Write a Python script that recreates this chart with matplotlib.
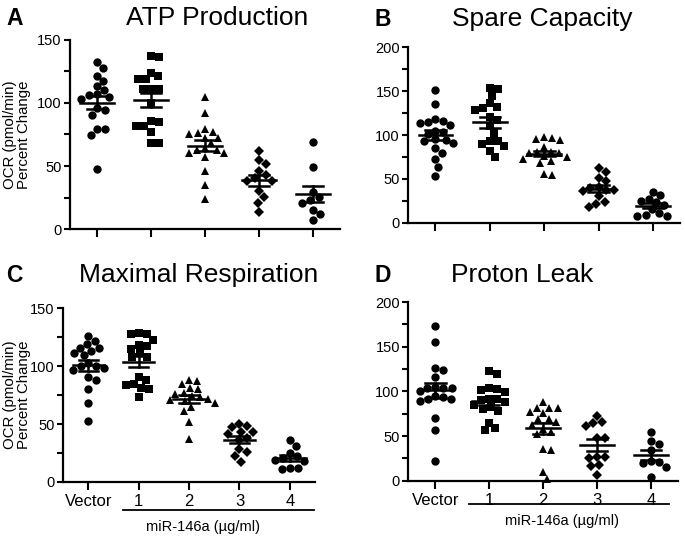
import numpy as np
import matplotlib
matplotlib.use("Agg")
import matplotlib.pyplot as plt
from matplotlib.ticker import MultipleLocator

plt.rcParams['font.family'] = ['Liberation Sans', 'DejaVu Sans']

groups = ['Vector', '1', '2', '3', '4']
markers = ['o', 's', '^', 'D', 'o']

# A - ATP Production
atp_vec = [132.5, 128, 121.4, 117.5, 113.5, 110.3, 107, 105, 106, 103, 94.4, 95.8, 90.5, 79, 79, 74.6, 47.4]
atp_1 = [137.3, 136.2, 118.8, 121.7, 124.1, 118.8, 110.8, 110.8, 110.8, 99.7, 85.2, 86, 82, 77.2, 82, 68, 68.5]
atp_2 = [105, 92, 77, 75, 76, 79, 72, 72, 68, 64, 63, 63, 60, 60, 57, 46, 35, 24]
atp_3 = [62.2, 54.8, 51.6, 45.8, 42.9, 40.2, 38.4, 38.4, 30.4, 25.1, 20.4, 13.2]
atp_4 = [68.8, 49.5, 29.1, 23, 20.9, 25.1, 15.1, 11.9, 6.9]

# B - Spare Capacity
spare_vec = [151, 135, 116, 111, 114, 115, 118, 105, 103, 101, 93, 95, 91, 94, 85, 79, 73, 64, 53]
spare_1 = [152, 154, 145, 136, 131, 129, 132, 121, 117, 110, 102, 93, 87, 90, 93, 82, 75]
spare_2 = [94, 97, 96, 98, 86, 81, 79, 81, 79, 75, 76, 73, 68, 70, 54, 55]
spare_3 = [58, 62, 51, 48, 40, 37, 37, 41, 36, 30, 24, 21, 18]
spare_4 = [31, 35, 27, 25, 23, 20, 15, 8, 8, 9, 11]

# C - Maximal Respiration
max_vec = [126, 122, 119, 116, 116, 111, 110, 113, 103, 100, 100, 98, 97, 91, 88, 80, 68, 53]
max_1 = [129, 128, 128, 123, 118, 117, 115, 111, 108, 108, 91, 88, 85, 81, 84, 80, 73]
max_2 = [85, 88, 87, 81, 80, 77, 76, 74, 73, 72, 71, 70, 68, 65, 61, 52, 37]
max_3 = [48, 47, 50, 43, 43, 41, 38, 36, 28, 26, 22, 17]
max_4 = [31, 36, 25, 22, 21, 19, 18, 12, 11, 12]

# D - Proton Leak
leak_vec = [173, 155, 124, 126, 116, 104, 105, 104, 104, 100, 94, 91, 89, 91, 95, 70, 57, 22]
leak_1 = [119, 123, 99, 104, 103, 102, 92, 90, 88, 91, 85, 83, 80, 78, 65, 57, 59]
leak_2 = [88, 82, 82, 81, 77, 76, 69, 69, 66, 63, 58, 55, 52, 36, 34, 10, 2]
leak_3 = [73, 65, 61, 66, 48, 48, 27, 25, 27, 18, 16, 7]
leak_4 = [55, 45, 41, 34, 21, 22, 20, 15, 4]


def swarm_offsets(ax, yvals, d):
    # simple beeswarm in pixel space, returns x offsets in data units
    y = np.asarray(yvals, float)
    ypix = ax.transData.transform(np.column_stack([np.zeros(len(y)), y]))[:, 1]
    p0 = ax.transData.transform([[0, 0], [1, 0]])
    xscale = p0[1, 0] - p0[0, 0]
    offs = np.zeros(len(y))
    placed = []
    for i in np.argsort(-ypix):
        yp = ypix[i]
        cands = [0.0]
        for px, py in placed:
            dy = abs(yp - py)
            if dy < d:
                dx = np.sqrt(d * d - dy * dy)
                cands += [px + dx, px - dx]
        for c in sorted(cands, key=abs):
            if all((c - px) ** 2 + (yp - py) ** 2 >= d * d - 1e-6 for px, py in placed):
                placed.append((c, yp))
                offs[i] = c
                break
    return offs / xscale


def panel(fig, rect, data, ymax, title, letter, title_xy, letter_xy, ylabel=False, xlabels=False):
    ax = fig.add_axes(rect)
    ax.set_xlim(-0.5, 4.5)
    ax.set_ylim(0, ymax)
    ax.spines['top'].set_visible(False)
    ax.spines['right'].set_visible(False)
    for s in ['left', 'bottom']:
        ax.spines[s].set_linewidth(1.6)
    ax.yaxis.set_major_locator(MultipleLocator(50))
    ax.yaxis.set_minor_locator(MultipleLocator(25))
    ax.set_xticks(range(5))
    ax.tick_params(axis='both', which='both', width=1.5, labelsize=10.5)
    ax.tick_params(axis='y', which='both', length=4, pad=2)
    ax.tick_params(axis='x', length=6, pad=3, labelsize=12)
    ax.tick_params(axis='x', which='minor', length=0)
    if xlabels:
        ax.set_xticklabels(groups)
    else:
        ax.set_xticklabels([])

    for i, vals in enumerate(data):
        vals = np.asarray(vals, float)
        xo = swarm_offsets(ax, vals, 8.2)
        ms = {'o': 6.0, 's': 5.6, '^': 6.4, 'D': 4.8}[markers[i]]
        ax.plot(i + xo, vals, linestyle='none', marker=markers[i], color='black',
                markersize=ms, markeredgewidth=0, clip_on=False, zorder=3)
        m = vals.mean()
        sem = vals.std(ddof=1) / np.sqrt(len(vals))
        ax.plot([i - 0.31, i + 0.31], [m, m], color='black', lw=1.8, zorder=4)
        ax.plot([i, i], [m - sem, m + sem], color='black', lw=1.8, zorder=4)
        ax.plot([i - 0.19, i + 0.19], [m + sem, m + sem], color='black', lw=1.8, zorder=4)
        ax.plot([i - 0.19, i + 0.19], [m - sem, m - sem], color='black', lw=1.8, zorder=4)

    W, H = 685, 539
    fig.text(title_xy[0] / W, 1 - title_xy[1] / H, title, fontsize=19,
             ha='center', va='baseline')
    fig.text(letter_xy[0] / W, 1 - letter_xy[1] / H, letter, fontsize=16.5,
             fontweight='bold', ha='left', va='baseline')
    if ylabel:
        cy = rect[1] + rect[3] / 2
        fig.text(17 / W, cy, 'OCR (pmol/min)\nPercent Change', rotation=90,
                 ha='center', va='center', fontsize=10.8, linespacing=1.0)
    return ax


fig = plt.figure(figsize=(6.85, 5.39), dpi=100)

axA = panel(fig, [0.102, 0.575, 0.394, 0.351], [atp_vec, atp_1, atp_2, atp_3, atp_4],
            150, 'ATP Production', 'A', (217, 25), (6, 25), ylabel=True)
axB = panel(fig, [0.596, 0.587, 0.397, 0.325], [spare_vec, spare_1, spare_2, spare_3, spare_4],
            200, 'Spare Capacity', 'B', (542, 26), (375, 26))
axC = panel(fig, [0.092, 0.106, 0.368, 0.322], [max_vec, max_1, max_2, max_3, max_4],
            150, 'Maximal Respiration', 'C', (199, 282), (6, 282), ylabel=True, xlabels=True)
axD = panel(fig, [0.596, 0.108, 0.394, 0.3315], [leak_vec, leak_1, leak_2, leak_3, leak_4],
            200, 'Proton Leak', 'D', (522, 282), (375, 282), xlabels=True)

# bracket + label under the miR-146a groups
for ax, x0, x1, yl, yt, xc in [(axC, 0.68, 4.48, -0.161, -0.262, 2.28),
                               (axD, 0.63, 4.33, -0.129, -0.224, 2.35)]:
    tr = ax.get_xaxis_transform()
    ax.plot([x0, x1], [yl, yl], color='black', lw=1.3, transform=tr, clip_on=False)
    ax.text(xc, yt, 'miR-146a (\u00b5g/ml)', transform=tr, ha='center', va='center', fontsize=10.5)

fig.savefig('out.png', dpi=100)
